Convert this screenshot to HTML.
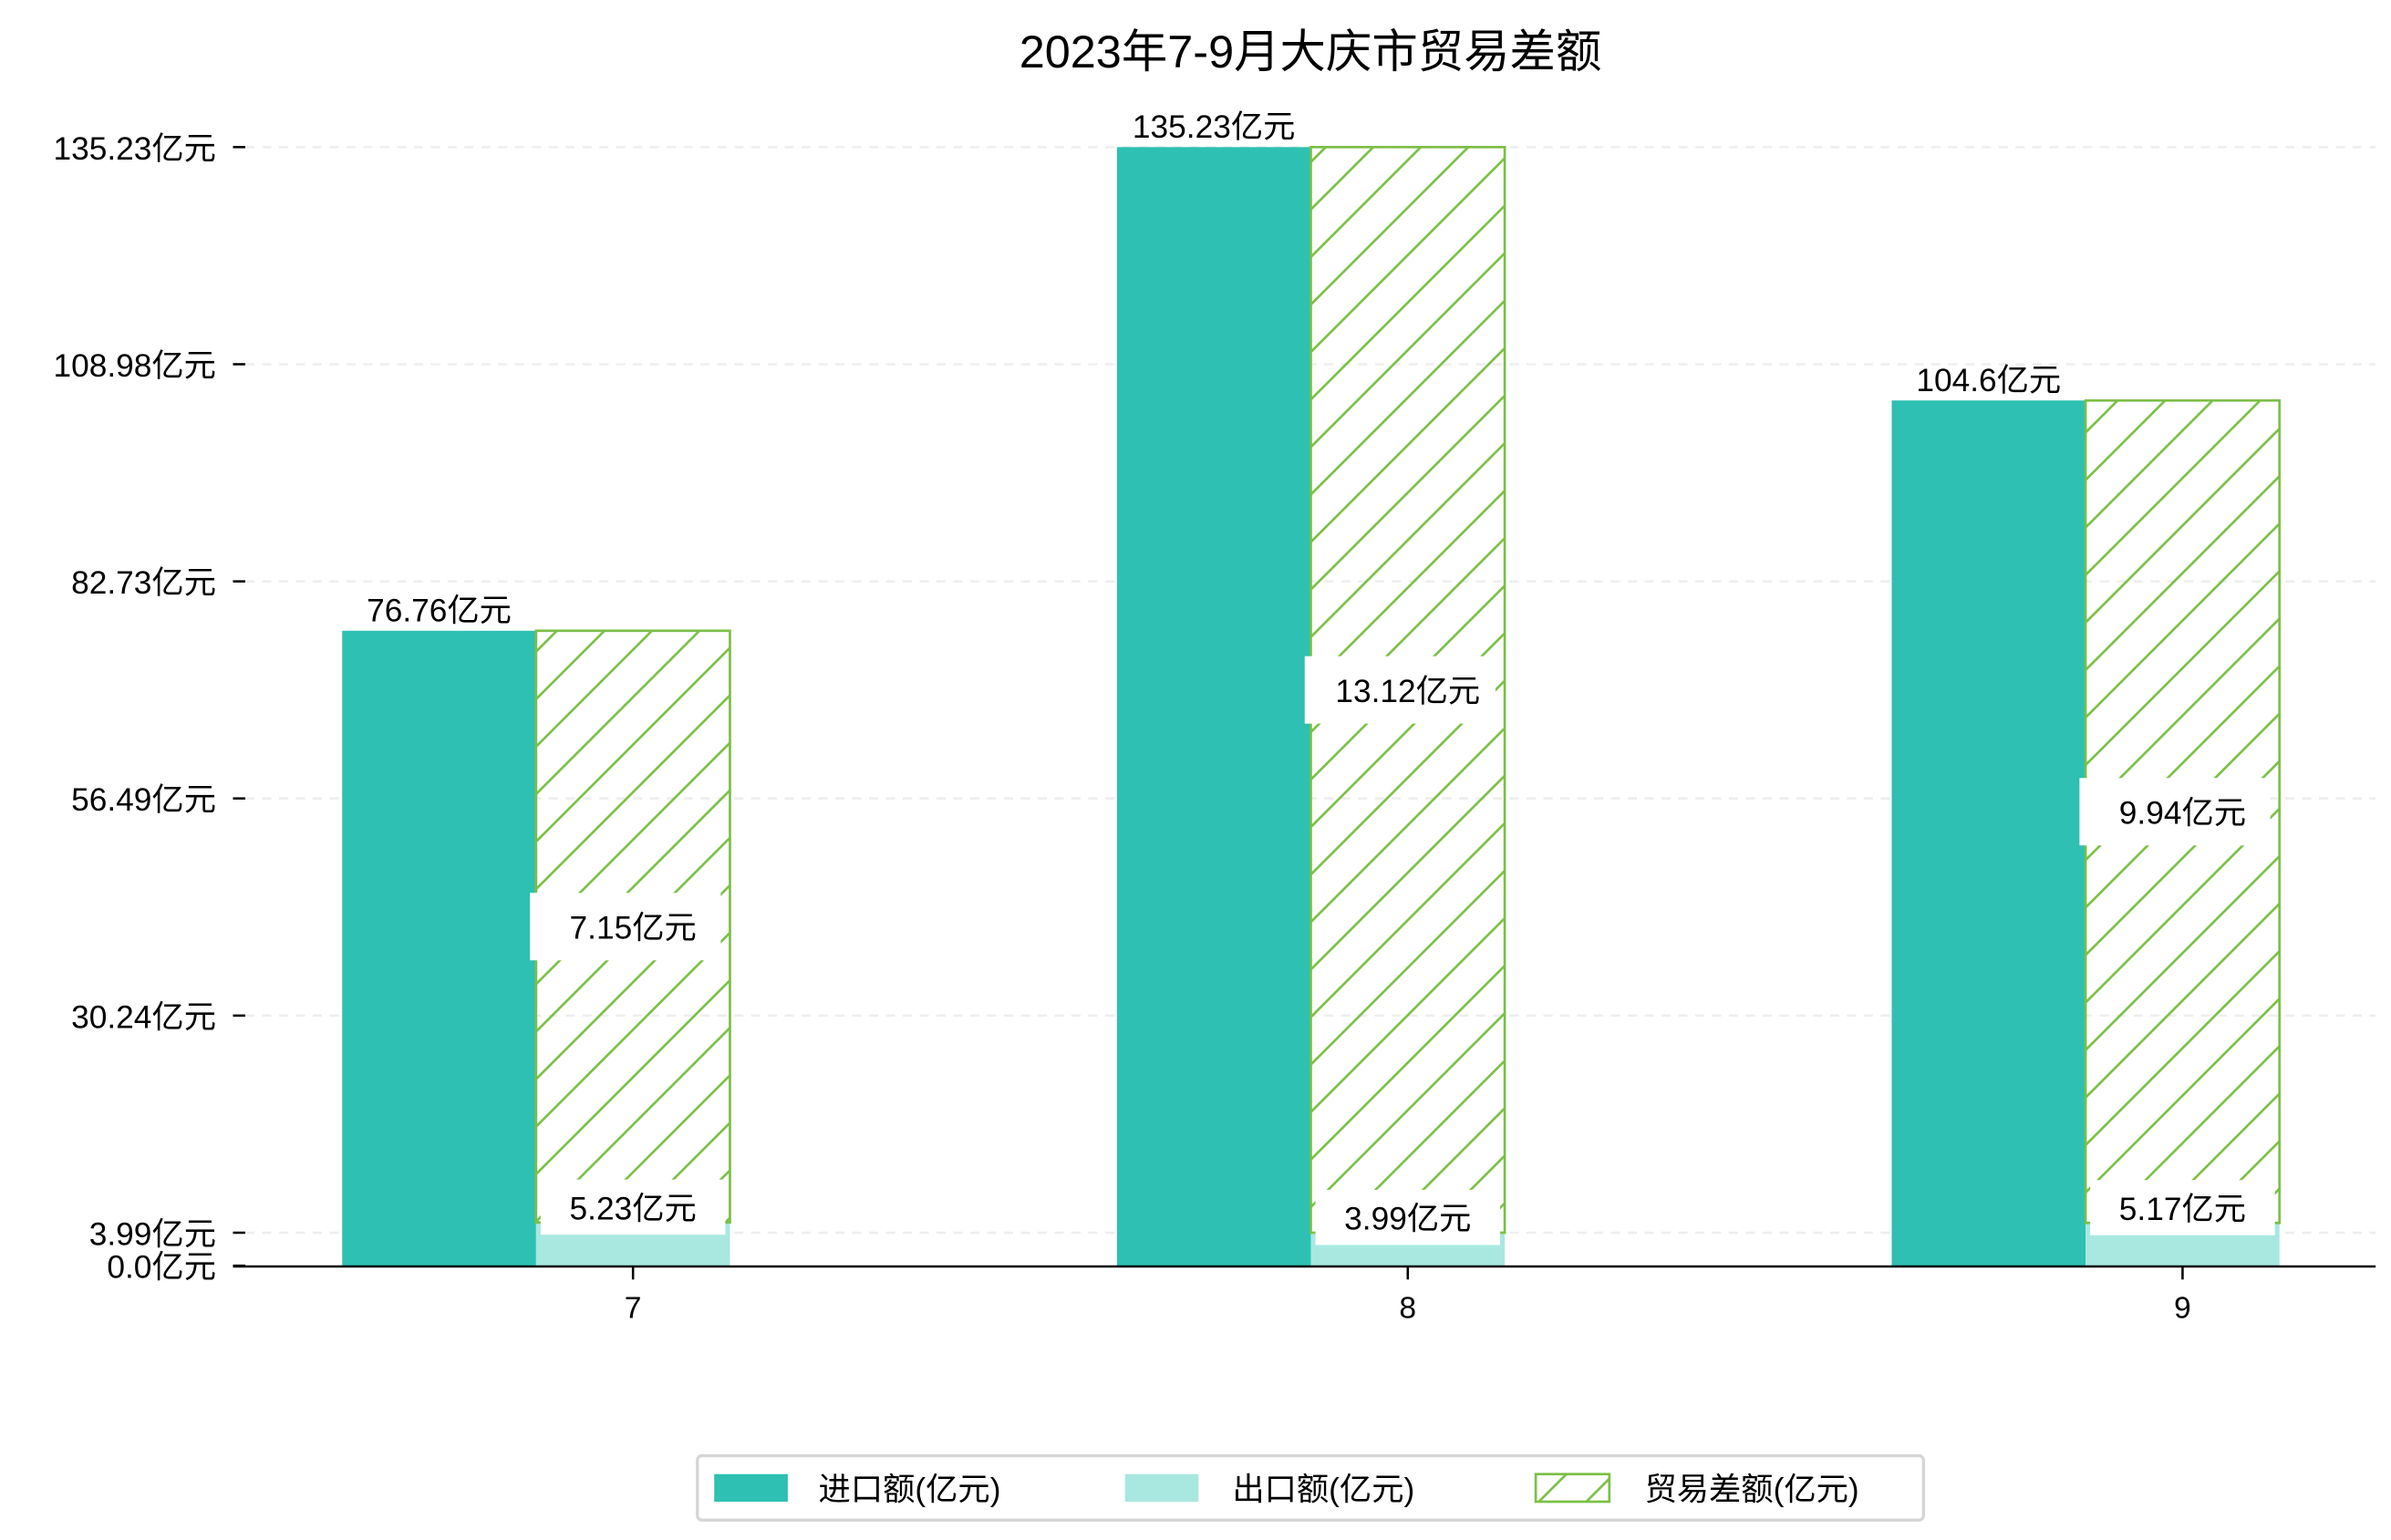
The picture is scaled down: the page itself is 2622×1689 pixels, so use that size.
<!DOCTYPE html>
<html><head><meta charset="utf-8"><style>
html,body{margin:0;padding:0;background:#fff;}
svg{display:block;font-family:"Liberation Sans","Noto Sans CJK SC",sans-serif;}
</style></head><body>
<svg id="chart" width="2622" height="1689" viewBox="0 0 1560 1005" preserveAspectRatio="none" xmlns="http://www.w3.org/2000/svg">
<defs>
<pattern id="hatch" patternUnits="userSpaceOnUse" width="31" height="31">
<path d="M-8,39 L39,-8 M-8,8 L8,-8 M23,39 L39,23" stroke="#7bbf45" stroke-width="1.6"/>
</pattern>
</defs>
<text x="855" y="44" text-anchor="middle" font-size="30">2023年7-9月大庆市贸易差额</text>
<g id="grid"></g>
<g id="bars"></g>
<g id="labels"></g>
<line x1="152" x2="1550" y1="826.5" y2="826.5" stroke="#000" stroke-width="1.5"/>
<g id="ticks"></g>
<g>
<rect x="455" y="950" width="800" height="42" rx="3" fill="#fff" stroke="#d6d6d6" stroke-width="2"/>
<g>
<rect x="466" y="962" width="48" height="18" fill="#2ec0b2"/>
<text x="534" y="979" font-size="21">进口额(亿元)</text></g>
<g>
<rect x="734" y="962" width="48" height="18" fill="#a8e8e1"/>
<text x="804" y="979" font-size="21">出口额(亿元)</text></g>
<g>
<rect x="1002" y="962" width="48" height="18" fill="url(#hatch)" stroke="#7bbf45" stroke-width="1.6"/>
<text x="1073" y="979" font-size="21">贸易差额(亿元)</text></g>
</g>
</svg>
<script>
const categories = ['7', '8', '9'];
const importValues = [76.76, 135.23, 104.6];
const exportValues = [5.23, 3.99, 5.17];
const balanceValues = [7.15, 13.12, 9.94];
const yTicks = [0.0, 3.99, 30.24, 56.49, 82.73, 108.98, 135.23];

const NS = 'http://www.w3.org/2000/svg';
const y0 = 826, yTop = 96, yMax = 135.23;
const yScale = v => y0 - (v / yMax) * (y0 - yTop);
const xCenter = i => 413 + i * 505.5;
const bw = 126.5;
function mk(tag, attrs, parent) {
  const el = document.createElementNS(NS, tag);
  for (const k in attrs) el.setAttribute(k, attrs[k]);
  document.getElementById(parent).appendChild(el);
  return el;
}
yTicks.forEach((t, i) => {
  const y = yScale(t);
  if (t > 0) {
    const g = mk('line', {x1: 160, x2: 1550, y1: y, y2: y, stroke: '#eee', 'stroke-width': 1.5, 'stroke-dasharray': '6,5'}, 'grid');
    
    
  }
  const tm = mk('line', {x1: 152, x2: 160, y1: y, y2: y, stroke: '#000', 'stroke-width': 1.5}, 'ticks');
  
  
  const tl = mk('text', {x: 141, y: y + 8, 'text-anchor': 'end', 'font-size': 21}, 'ticks');
  
  
  tl.textContent = (Number.isInteger(t) ? t.toFixed(1) : String(t)) + '亿元';
});
categories.forEach((c, i) => {
  const xc = xCenter(i);
  const imp = mk('rect', {x: xc - 1.5 * bw, y: yScale(importValues[i]), width: bw, height: y0 - yScale(importValues[i]), fill: '#2ec0b2'}, 'bars');
  
  
  const ex = mk('rect', {x: xc - bw / 2, y: yScale(exportValues[i]), width: bw, height: y0 - yScale(exportValues[i]), fill: '#a8e8e1'}, 'bars');
  
  
  const top = yScale(importValues[i]), bot = yScale(exportValues[i]);
  const hb = mk('rect', {x: xc - bw / 2, y: top, width: bw, height: bot - top, fill: 'url(#hatch)', stroke: '#7bbf45', 'stroke-width': 1.6}, 'bars');
  
  
  const il = mk('text', {x: xc - bw, y: top - 6, 'text-anchor': 'middle', 'font-size': 21}, 'labels');
  
  
  il.textContent = importValues[i] + '亿元';
  const my = (top + bot) / 2;
  const bb = mk('rect', {x: xc - bw / 2 - 4, y: my - 22, width: bw - 2, height: 44, fill: '#fff'}, 'labels');
  
  
  const bl = mk('text', {x: xc, y: my + 8, 'text-anchor': 'middle', 'font-size': 21}, 'labels');
  
  
  bl.textContent = balanceValues[i] + '亿元';
  const ey = bot - 10;
  const eb = mk('rect', {x: xc - bw / 2 + 3, y: ey - 18, width: bw - 6, height: 36, fill: '#fff'}, 'labels');
  
  
  const el = mk('text', {x: xc, y: ey + 8, 'text-anchor': 'middle', 'font-size': 21}, 'labels');
  
  
  el.textContent = exportValues[i] + '亿元';
  const xt = mk('line', {x1: xc, x2: xc, y1: 827, y2: 835, stroke: '#000', 'stroke-width': 1.5}, 'ticks');
  
  
  const xl = mk('text', {x: xc, y: 860, 'text-anchor': 'middle', 'font-size': 20}, 'ticks');
  
  
  xl.textContent = c;
});
</script>
</body></html>
